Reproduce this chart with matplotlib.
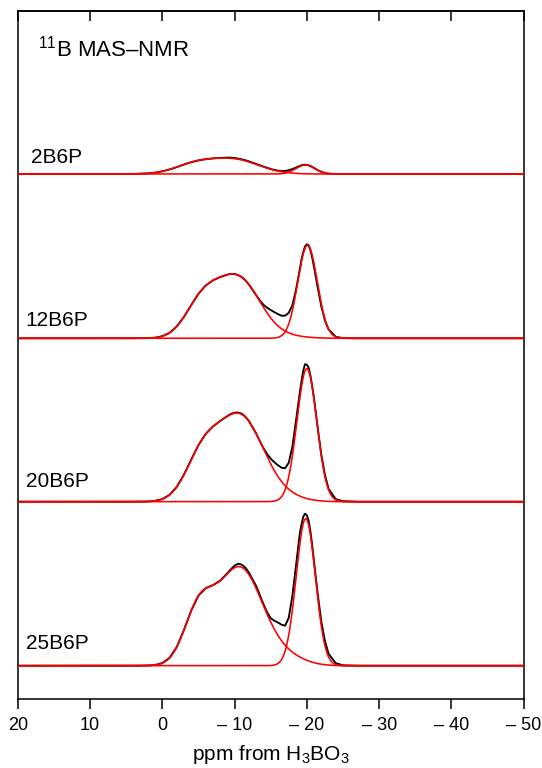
import numpy as np
import matplotlib
matplotlib.use("Agg")
import matplotlib.pyplot as plt

plt.rcParams['font.family'] = ['Liberation Sans', 'DejaVu Sans']
plt.rcParams['mathtext.fontset'] = 'custom'
plt.rcParams['mathtext.rm'] = 'Liberation Sans'
plt.rcParams['mathtext.it'] = 'Liberation Sans:italic'
plt.rcParams['mathtext.bf'] = 'Liberation Sans:bold'
plt.rcParams['mathtext.default'] = 'regular'

# ---- data -------------------------------------------------------------
samples = ['2B6P', '12B6P', '20B6P', '25B6P']

# broad BO3 band of the fit, described by three Gaussian terms (ppm, a.u., ppm)
band_a_center = [-4.5, -5.5, -5.5, -5.0]
band_a_height = [9.0, 34.0, 41.0, 50.0]
band_a_sigma = [2.8, 2.3, 2.3, 2.0]
band_b_center = [-10.0, -10.5, -10.8, -10.7]
band_b_height = [14.0, 60.0, 85.0, 98.0]
band_b_sigma = [3.4, 3.0, 3.2, 3.2]
band_c_center = [-17.5, -17.5, -17.5, -17.5]
band_c_height = [0.0, 1.5, 3.0, 6.5]
band_c_sigma = [2.5, 2.5, 2.5, 2.5]

# narrow BO4 peak of the fit
peak_center = [-19.8, -20.1, -20.0, -19.85]
peak_height = [9.0, 93.0, 133.0, 147.0]
peak_sigma = [1.3, 1.35, 1.37, 1.33]

# measured spectra (ppm, a.u.)
exp_ppm = [20, 6, 4, 2, 1, 0, -1, -2, -3, -4, -5, -6, -7, -8, -9, -9.5, -10, -10.5,
           -11, -11.5, -12, -13, -13.5, -14, -14.5, -15, -15.5, -16, -16.5, -17,
           -17.5, -18, -18.5, -19, -19.25, -19.5, -19.75, -20, -20.25, -20.5,
           -20.75, -21, -21.5, -22, -22.5, -23, -24, -25, -27, -50]
exp_2B6P = [0, 0, 0.1, 0.6, 1.3, 2.7, 4.5, 6.9, 9.5, 11.8, 13.6, 14.8, 15.6, 16.1,
            16.4, 16.3, 16.0, 15.4, 14.6, 13.7, 12.6, 10.0, 8.7, 7.4, 6.2, 5.0, 4.1,
            3.4, 3.0, 3.0, 3.7, 5.0, 6.4, 8.0, 8.7, 9.1, 9.3, 9.1, 8.7, 8.0, 7.1,
            6.0, 3.9, 2.2, 1.0, 0.4, 0.1, 0, 0, 0]
exp_12B6P = [0, 0, 0, 0.2, 0.6, 2.1, 5.4, 11.8, 21.4, 33.2, 44.4, 52.7, 57.9, 61.2,
             63.7, 64.3, 64.2, 63.2, 61.1, 58.0, 53.6, 43.0, 37.8, 33.5, 30.6, 28.3,
             26.2, 24.2, 22.6, 22.6, 25.5, 33.0, 48.5, 68.0, 78.5, 86.0, 92.0, 94.0,
             93.0, 88.0, 80.5, 71.0, 51.0, 32.0, 18.0, 9.0, 1.5, 0.2, 0, 0]
exp_20B6P = [0, 0, 0, 0.2, 0.9, 2.6, 6.8, 14.8, 27.1, 42.0, 56.5, 67.7, 75.1, 80.7,
             85.6, 87.8, 89.0, 89.2, 88.0, 85.0, 80.5, 68.0, 60.5, 53.5, 47.8, 43.0,
             39.5, 36.5, 34.0, 33.5, 39.0, 55.0, 81.0, 108.0, 120.0, 131.0, 137.5,
             137.0, 134.0, 126.0, 115.0, 103.0, 74.0, 47.0, 27.0, 13.0, 2.5, 0.5, 0, 0]
exp_25B6P = [0, 0, 0, 0.2, 0.7, 2.6, 7.8, 18.6, 35.7, 55.0, 70.1, 77.4, 80.5, 85.0,
             92.5, 96.5, 100.0, 102.0, 101.0, 98.0, 93.0, 79.5, 70.5, 61.5, 53.5,
             47.5, 45.0, 43.2, 41.0, 40.0, 48.0, 70.0, 100.0, 131.0, 141.0, 149.0,
             152.0, 150.5, 145.0, 134.0, 120.0, 104.0, 72.0, 44.0, 25.0, 12.0, 2.5,
             0.4, 0, 0]
exp_spectra = [exp_2B6P, exp_12B6P, exp_20B6P, exp_25B6P]

tick_values = [20, 10, 0, -10, -20, -30, -40, -50]
tick_labels = ['20', '10', '0', '\u2013 10', '\u2013 20', '\u2013 30', '\u2013 40', '\u2013 50']

# ---- layout -----------------------------------------------------------
offsets = [525.3, 361.0, 197.6, 33.6]
label_y = [536.0, 373.3, 212.3, 50.3]
label_x = [18.1, 18.9, 18.9, 18.9]


def gauss(x, c, h, s):
    return h * np.exp(-(x - c) ** 2 / (2.0 * s ** 2))


fig = plt.figure(figsize=(5.42, 7.68), dpi=100)
ax = fig.add_axes([17.7 / 542, 68.7 / 768, 506.0 / 542, 688.3 / 768])

grid = np.linspace(20, -50, 2801)
for i, name in enumerate(samples):
    off = offsets[i]
    ax.plot(exp_ppm, np.asarray(exp_spectra[i]) + off, color='black', lw=1.35,
            zorder=2, solid_joinstyle='round')
    band = (gauss(grid, band_a_center[i], band_a_height[i], band_a_sigma[i])
            + gauss(grid, band_b_center[i], band_b_height[i], band_b_sigma[i])
            + gauss(grid, band_c_center[i], band_c_height[i], band_c_sigma[i]))
    peak = gauss(grid, peak_center[i], peak_height[i], peak_sigma[i])
    ax.plot(grid, band + off, color='#ff0000', lw=1.15, zorder=3)
    ax.plot(grid, peak + off, color='#ff0000', lw=1.15, zorder=3)
    ax.text(label_x[i], label_y[i], name, fontsize=15, ha='left', va='baseline')

ax.text(17.2, 642.6, '$^{11}$B MAS\u2013NMR', fontsize=16, ha='left', va='baseline')

ax.set_xlim(20, -50)
ax.set_ylim(0, 688.3)
ax.set_yticks([])
ax.set_xticks(tick_values)
ax.set_xticklabels(tick_labels)
ax.tick_params(axis='x', direction='out', length=7, width=1.1, labelsize=13,
               pad=6, top=False)
for sp in ax.spines.values():
    sp.set_linewidth(1.1)

top = ax.secondary_xaxis('top')
top.set_xticks(tick_values)
top.tick_params(direction='in', length=7, width=1.1, labeltop=False)
top.spines['top'].set_linewidth(1.1)

ax.set_xlabel('ppm from H$_3$BO$_3$', fontsize=15, labelpad=6)

fig.savefig('out.png', dpi=100)
